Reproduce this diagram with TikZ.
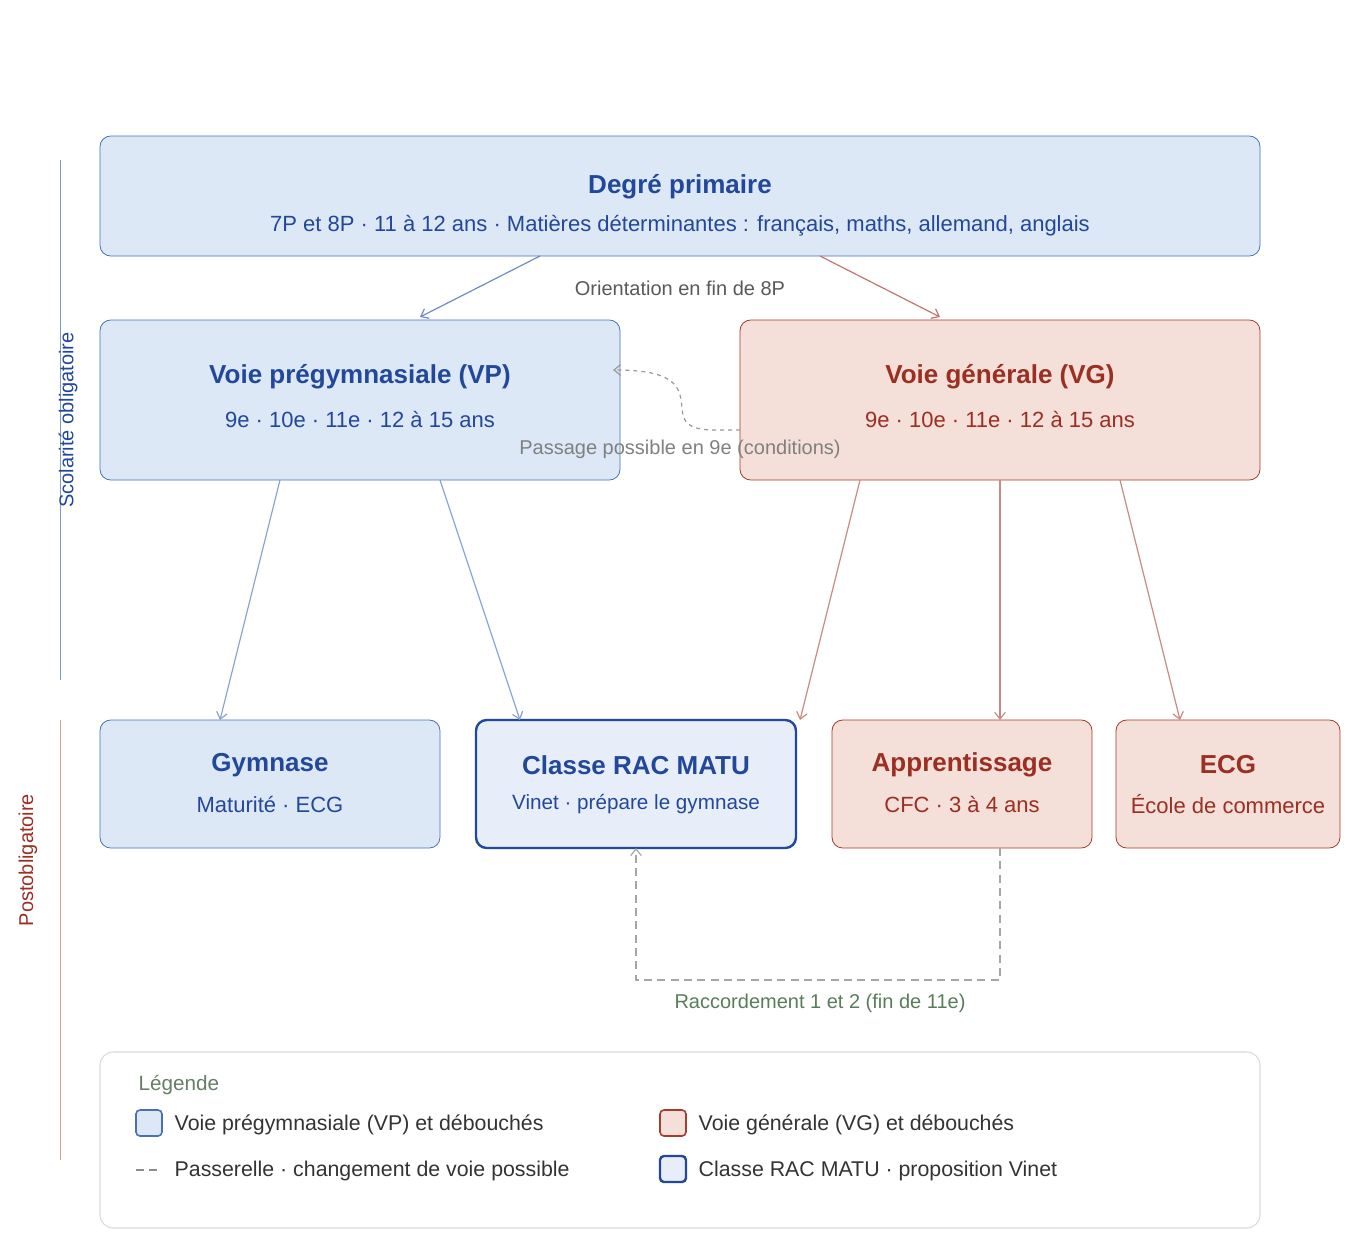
\documentclass[tikz,border=0pt]{standalone}
\usepackage{fontspec}
\setmainfont{Liberation Sans}
\usetikzlibrary{arrows.meta}
\definecolor{bfill}{HTML}{DDE8F6}\definecolor{bdraw}{HTML}{4A6FB5}\definecolor{btext}{HTML}{22489A}
\definecolor{rfill}{HTML}{F4DFD9}\definecolor{rdraw}{HTML}{A83A2E}\definecolor{rtext}{HTML}{9A2F22}
\definecolor{racfill}{HTML}{E8EEF9}
\begin{document}
\begin{tikzpicture}[x=0.75pt,y=-0.75pt,
  bbox/.style={draw=bdraw,fill=bfill,rounded corners=8pt,line width=0.6pt},
  rbox/.style={draw=rdraw,fill=rfill,rounded corners=8pt,line width=0.6pt},
  ttl/.style={font=\bfseries\fontsize{19.5}{22}\selectfont},
  sub/.style={font=\fontsize{16.5}{19}\selectfont},
  arr/.style={-{Straight Barb[length=5pt,width=8pt]},line width=0.9pt},
  lbl/.style={font=\fontsize{15}{17}\selectfont},
  leg/.style={font=\fontsize{16}{18}\selectfont,text=black!80,anchor=west}]
\useasboundingbox (0,0) rectangle (1360,1260);
% side lines
\draw[bdraw!70,line width=0.6pt] (60,160) -- (60,680);
\node[rotate=90,text=btext,font=\fontsize{15}{17}\selectfont] (so) at (68,420) {Scolarité obligatoire};
\draw[rdraw!50,line width=0.6pt] (60,720) -- (60,1160);
\node[rotate=90,text=rtext,font=\fontsize{15}{17}\selectfont] (po) at (28,860) {Postobligatoire};
% boxes
\draw[bbox] (100,136) rectangle (1260,256);
\node[ttl,text=btext] (dp) at (680,187) {Degré primaire};
\node[sub,text=btext] (dps) at (680,226) {7P et 8P · 11 à 12 ans · Matières déterminantes : français, maths, allemand, anglais};
\draw[bbox] (100,320) rectangle (620,480);
\node[ttl,text=btext] (vp) at (360,377) {Voie prégymnasiale (VP)};
\node[sub,text=btext] (vps) at (360,420) {9e · 10e · 11e · 12 à 15 ans};
\draw[rbox] (740,320) rectangle (1260,480);
\node[ttl,text=rtext] (vg) at (1000,377) {Voie générale (VG)};
\node[sub,text=rtext] (vgs) at (1000,420) {9e · 10e · 11e · 12 à 15 ans};
\draw[bbox] (100,720) rectangle (440,848);
\node[ttl,text=btext] (gy) at (270,765) {Gymnase};
\node[sub,text=btext] (gys) at (270,804) {Maturité · ECG};
\draw[draw=btext,fill=racfill,rounded corners=8pt,line width=1.8pt] (476,720) rectangle (796,848);
\node[ttl,text=btext] (rac) at (636,765) {Classe RAC MATU};
\node[font=\fontsize{15.5}{18}\selectfont,text=btext] (racs) at (636,804) {Vinet · prépare le gymnase};
\draw[rbox] (832,720) rectangle (1092,848);
\node[ttl,text=rtext] (ap) at (962,765) {Apprentissage};
\node[sub,text=rtext] (aps) at (962,804) {CFC · 3 à 4 ans};
\draw[rbox] (1116,720) rectangle (1340,848);
\node[ttl,text=rtext] (ecg) at (1228,765) {ECG};
\node[sub,text=rtext] (ecgs) at (1228,804) {École de commerce};
% coordinates
\coordinate (p1) at (540,256); \coordinate (p1e) at (420,317);
\coordinate (p2) at (820,256); \coordinate (p2e) at (940,317);
\coordinate (a1) at (280,480); \coordinate (a1e) at (220,720);
\coordinate (a2) at (440,480); \coordinate (a2e) at (520,720);
\coordinate (b1) at (860,480); \coordinate (b1e) at (800,720);
\coordinate (b2) at (1000,480); \coordinate (b2e) at (1000,720);
\coordinate (b3) at (1120,480); \coordinate (b3e) at (1180,720);
\draw[arr,bdraw!80] (p1) -- (p1e);
\draw[arr,rdraw!70] (p2) -- (p2e);
\node[lbl,text=black!65] (or) at (680,288) {Orientation en fin de 8P};
\draw[arr,bdraw!65] (a1) -- (a1e);
\draw[arr,bdraw!65] (a2) -- (a2e);
\draw[arr,rdraw!60] (b1) -- (b1e);
\draw[arr,rdraw!60] (b2) -- (b2e);
\draw[arr,rdraw!60] (b3) -- (b3e);
% passage
\coordinate (ps) at (740,430); \coordinate (pe) at (613,370);
\draw[arr,black!40,dashed,line width=0.9pt] (ps) -- (715,430) .. controls (675,430) and (685,412) .. (680,395) .. controls (675,375) and (650,370) .. (pe);
\node[lbl,text=black!50] (pl) at (680,449) {Passage possible en 9e (conditions)};
% raccordement
\coordinate (rs) at (1000,848); \coordinate (re) at (636,848);
\draw[arr,black!35,dashed,line width=0.9pt,dash pattern=on 6pt off 4pt] (rs) -- (1000,980) -- (636,980) -- (re);
\node[lbl,text=black!55!green!30!gray] (rl) at (820,1003) {Raccordement 1 et 2 (fin de 11e)};
% legend
\draw[black!15,rounded corners=10pt,line width=0.8pt] (100,1052) rectangle (1260,1228);
\node[anchor=west,text=black!55!green!20!gray,font=\fontsize{15.5}{18}\selectfont] (lt) at (134,1085) {Légende};
\draw[bdraw,fill=bfill,rounded corners=3pt,line width=1.2pt] (136,1110) rectangle (162,1136);
\node[leg] (l1) at (170,1125) {Voie prégymnasiale (VP) et débouchés};
\draw[black!45,dashed,line width=0.9pt,dash pattern=on 6pt off 4pt] (136,1170) -- (160,1170);
\node[leg] (l2) at (170,1171) {Passerelle · changement de voie possible};
\draw[rdraw,fill=rfill,rounded corners=3pt,line width=1.2pt] (660,1110) rectangle (686,1136);
\node[leg] (l3) at (694,1125) {Voie générale (VG) et débouchés};
\draw[btext,fill=racfill,rounded corners=3pt,line width=1.8pt] (660,1156) rectangle (686,1182);
\node[leg] (l4) at (694,1171) {Classe RAC MATU · proposition Vinet};
\end{tikzpicture}
\end{document}
